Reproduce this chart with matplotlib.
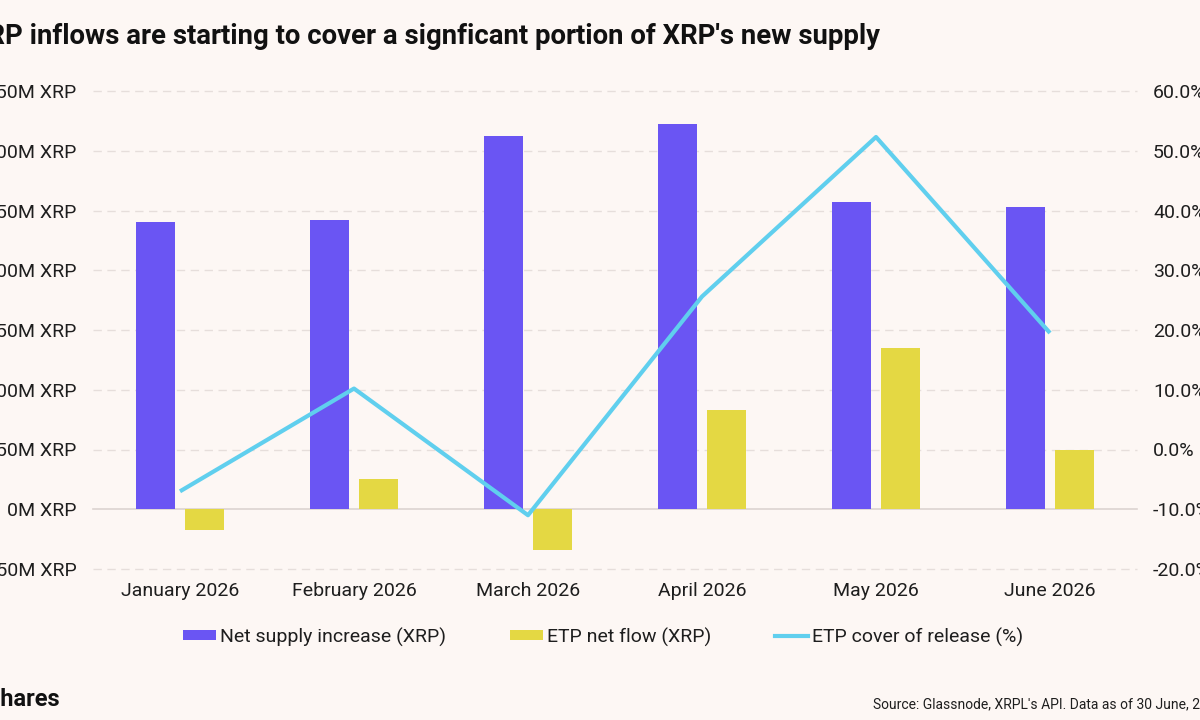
import matplotlib
matplotlib.use("Agg")
import matplotlib.pyplot as plt
import numpy as np
from matplotlib.patches import Patch
from matplotlib.lines import Line2D

months = ["January 2026", "February 2026", "March 2026", "April 2026", "May 2026", "June 2026"]
net_supply = [240, 242, 312, 322, 257, 253]      # M XRP
etp_flow = [-17, 25, -34, 83, 135, 50]           # M XRP
etp_cover = [-7.0, 10.2, -11.0, 25.6, 52.3, 19.5]  # %

left_ticks = [-50, 0, 50, 100, 150, 200, 250, 300, 350]
right_ticks = [-20, -10, 0, 10, 20, 30, 40, 50, 60]

BG = "#FDF7F4"
PURPLE = "#6A55F3"
YELLOW = "#E4D843"
CYAN = "#60CFEE"
TXT = "#1E1E1E"
FONT = ["Roboto", "DejaVu Sans"]

plt.rcParams["font.family"] = FONT

fig = plt.figure(figsize=(12, 7.2), dpi=100, facecolor=BG)
ax = fig.add_axes([93 / 1200, 151 / 720, 1044 / 1200, 478 / 720])
ax.set_facecolor(BG)

x = np.arange(len(months))
w = 0.224
off = 0.141
ax.bar(x - off, net_supply, w, color=PURPLE, zorder=3)
ax.bar(x + off, etp_flow, w, color=YELLOW, zorder=3)

ax.set_xlim(-0.5, len(months) - 0.5)
ax.set_ylim(-50, 350)
ax.set_yticks(left_ticks)
ax.set_yticklabels([f"{v}M XRP" for v in left_ticks])
ax.set_xticks(x)
ax.set_xticklabels(months)
ax.tick_params(axis="y", length=0, pad=12, labelsize=14, labelcolor=TXT)
ax.tick_params(axis="x", length=0, pad=9, labelsize=14, labelcolor=TXT)
for s in ax.spines.values():
    s.set_visible(False)
for v in left_ticks:
    if v == 0:
        ax.axhline(v, color="#DCD4D1", lw=1.2, zorder=2, clip_on=False)
    else:
        ax.axhline(v, color="#E6DEDB", lw=1.0, ls=(0, (6, 4)), zorder=1, clip_on=False)

ax2 = ax.twinx()
ax2.plot(x, etp_cover, color=CYAN, lw=3.0, solid_capstyle="butt", zorder=4)
ax2.set_ylim(-20, 60)
ax2.set_yticks(right_ticks)
ax2.set_yticklabels([f"{v:.1f}%" for v in right_ticks])
ax2.tick_params(axis="y", length=0, pad=11.5, labelsize=14, labelcolor=TXT)
for s in ax2.spines.values():
    s.set_visible(False)

# title (left part cropped like the reference)
fig.text(880 / 1200, 1 - 37 / 720,
         "XRP inflows are starting to cover a signficant portion of XRP's new supply",
         ha="right", va="center", fontsize=19.8, fontweight="bold", color="#111111")

handles = [
    Patch(facecolor=PURPLE, label="Net supply increase (XRP)"),
    Patch(facecolor=YELLOW, label="ETP net flow (XRP)"),
    Line2D([0], [0], color=CYAN, lw=3, label="ETP cover of release (%)"),
]
fig.legend(handles=handles, loc="center", bbox_to_anchor=(603 / 1200, 1 - 637 / 720),
           ncol=3, frameon=False, fontsize=14, handlelength=1.7, handleheight=0.42,
           handletextpad=0.2, columnspacing=3.3, labelcolor=TXT)

fig.text(60 / 1200, 1 - 700 / 720, "21shares", ha="right", va="center",
         fontsize=17, fontweight="bold", color="#111111")
fig.text(873 / 1200, 1 - 704 / 720,
         "Source: Glassnode, XRPL's API. Data as of 30 June, 2026",
         ha="left", va="center", fontsize=10, color=TXT)

fig.savefig("out.png", dpi=100, facecolor=BG)
